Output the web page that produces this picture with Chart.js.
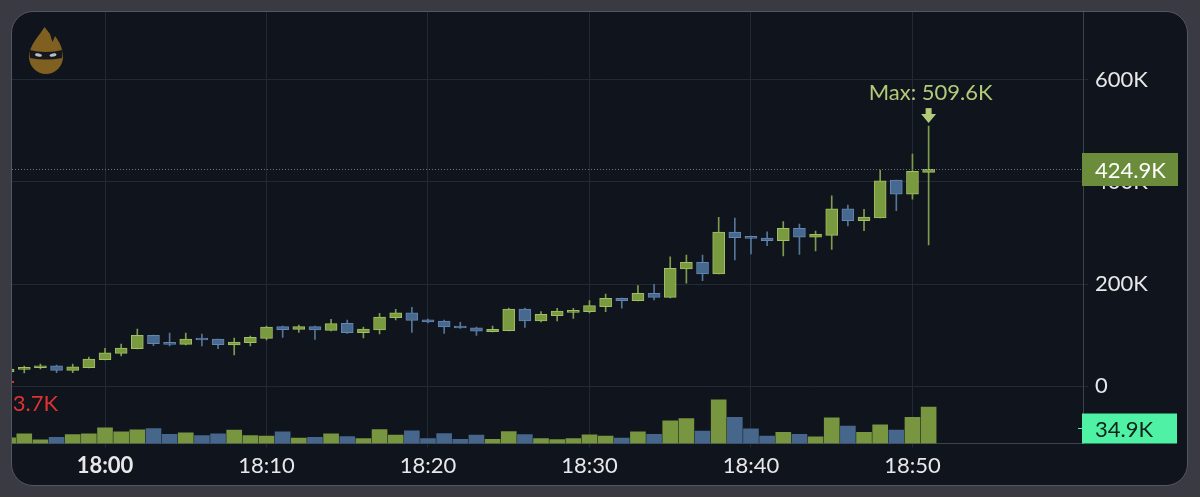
<!DOCTYPE html>
<html><head><meta charset="utf-8">
<script src="https://cdn.jsdelivr.net/npm/chart.js@4.4.0/dist/chart.umd.min.js"></script>
<style>
html,body{margin:0;padding:0;background:#3a3a43;width:1200px;height:497px;overflow:hidden}
#panel{position:absolute;left:11px;top:11px;width:1175px;height:473px;background:#0f141d;border:1px solid #55555f;border-radius:22px;overflow:hidden}
canvas{position:absolute;left:0;top:0}
</style></head><body>
<div id="panel"><canvas id="c" width="1175" height="473"></canvas></div>
<script>
// ---- data (prices and volumes in thousands) ----
const times = ['17:54','17:55','17:56','17:57','17:58','17:59','18:00','18:01','18:02','18:03','18:04','18:05','18:06','18:07','18:08','18:09','18:10','18:11','18:12','18:13','18:14','18:15','18:16','18:17','18:18','18:19','18:20','18:21','18:22','18:23','18:24','18:25','18:26','18:27','18:28','18:29','18:30','18:31','18:32','18:33','18:34','18:35','18:36','18:37','18:38','18:39','18:40','18:41','18:42','18:43','18:44','18:45','18:46','18:47','18:48','18:49','18:50','18:51'];
const openK  = [27.5,32.7,35.9,39.8,30.8,35.9,51.6,64.1,73.1,99.4,84.3,81.8,92.2,92.2,80.4,84.9,93.5,116.3,111.2,116.3,109.2,122.9,104.5,109.8,133.9,143.7,130.0,127.5,117.1,114.3,106.5,108.4,151.0,127.5,137.8,144.5,145.7,155.5,172.0,167.3,181.8,173.9,229.4,242.5,219.6,302.0,292.7,290.2,284.9,309.2,291.6,295.5,347.6,324.1,329.4,403.9,375.9,419.0];
const highK  = [39.2,39.2,43.1,41.2,43.1,56.9,73.9,82.4,111.8,100.0,103.9,103.9,102.0,92.2,94.1,98.0,117.6,117.6,119.6,117.6,130.8,129.4,115.7,142.5,150.4,154.3,131.4,129.4,124.9,115.7,117.6,152.9,152.9,145.7,152.4,152.4,167.3,180.4,172.5,196.7,199.4,253.5,256.9,256.9,330.8,329.4,294.1,302.5,322.2,317.6,303.9,373.1,354.9,346.5,423.5,403.9,454.9,509.6];
const lowK   = [23.7,25.5,33.3,26.1,26.1,35.3,51.0,58.8,72.5,79.0,78.4,80.4,78.4,73.1,60.8,78.4,90.2,95.5,105.3,91.6,107.8,103.3,94.1,102.0,129.4,105.3,123.5,103.3,113.1,99.4,105.9,107.8,115.1,125.5,127.5,132.7,143.1,145.7,152.4,166.7,168.6,172.5,201.4,206.5,219.6,247.1,258.8,275.1,254.9,258.2,264.7,268.0,313.7,304.5,329.4,343.7,366.1,276.5];
const closeK = [33.3,36.7,39.8,30.8,37.8,52.9,65.3,74.5,99.4,82.9,81.8,92.2,90.2,81.0,86.3,95.5,115.7,110.4,116.3,109.8,122.2,104.5,111.8,135.3,143.7,128.8,125.5,115.7,113.7,107.3,111.2,151.0,127.5,140.6,147.1,148.4,157.5,172.0,167.3,181.8,173.9,230.8,242.5,219.6,302.0,290.8,289.6,284.9,309.2,291.6,297.5,347.6,324.1,331.4,402.5,375.9,421.0,424.9];
const volumeK = [5.5,9.3,3.6,5.8,8.6,9.3,15.1,11.2,13.2,14.4,8.9,10.3,7.7,9.3,12.8,7.7,7.0,11.2,5.1,6.0,9.3,6.7,4.8,13.4,8.0,12.2,4.8,9.6,4.1,8.0,4.1,11.5,8.6,4.8,3.8,4.8,8.4,7.0,5.3,11.2,8.9,21.8,24.0,11.8,42.0,25.2,14.1,7.0,10.8,8.9,6.4,24.7,16.6,10.6,18.0,12.8,25.0,34.9];
const timeTicks = ['18:00','18:10','18:20','18:30','18:40','18:50'];
const priceTicks = [0,200,400,600];
const lastPrice = 424.9, lastVolume = 34.9, maxPrice = 509.6, minPrice = 23.7;

// ---- helpers ----
const toMin = t => { const [h,m] = t.split(':').map(Number); return (h-18)*60 + m; };
const xs = times.map(toMin);
const up = closeK.map((c,i) => c >= openK[i]);
const C = {
  gFill:'#7a9a3f', gBorder:'#a3bf66', gWick:'#7f9c4c', gVol:'#77963f',
  bFill:'#47698f', bBorder:'#6287b0', bWick:'#557599', bVol:'#46668c',
  grid:'#222a36', axis:'#3b4352', text:'#e8e8ea'
};
const FONT = 'Lato, "Open Sans", sans-serif';
const FS = 22;

const bodies = xs.map((x,i) => ({x, y:[openK[i], closeK[i]]}));
const wicks  = xs.map((x,i) => ({x, y:[lowK[i], highK[i]]}));
const vols   = xs.map((x,i) => ({x, y:volumeK[i]}));

const overlay = {
  id:'overlay',
  afterDraw(chart){
    const {ctx, chartArea:a, scales} = chart;
    const yS = scales.y, xS = scales.x;
    ctx.save();
    // dotted last price line
    const py = Math.round(yS.getPixelForValue(lastPrice)) + 0.5;
    ctx.strokeStyle = '#6d727c'; ctx.lineWidth = 1; ctx.setLineDash([1,2]);
    ctx.beginPath(); ctx.moveTo(a.left, py); ctx.lineTo(a.right, py); ctx.stroke();
    ctx.setLineDash([]);
    // last price box
    ctx.fillStyle = '#6b8d3b';
    ctx.fillRect(a.right - 1, py - 16.5, 96, 33);
    ctx.fillStyle = '#ffffff'; ctx.font = FS + 'px ' + FONT;
    ctx.textBaseline = 'middle'; ctx.textAlign = 'left';
    ctx.fillText(lastPrice.toFixed(1) + 'K', a.right + 12, py + 1);
    // volume box
    const vy = a.bottom - 15;
    ctx.fillStyle = '#4ff2a4';
    ctx.fillRect(a.right - 1, vy - 15, 95, 30);
    ctx.strokeStyle = '#4ff2a4'; ctx.beginPath(); ctx.moveTo(a.right - 5, vy); ctx.lineTo(a.right, vy); ctx.stroke();
    ctx.fillStyle = '#102219';
    ctx.fillText(lastVolume.toFixed(1) + 'K', a.right + 12, vy + 1);
    // max marker
    const last = xs.length - 1;
    const mx = xS.getPixelForValue(xs[last]);
    const my = yS.getPixelForValue(maxPrice);
    ctx.fillStyle = '#b3ca78';
    ctx.textAlign = 'center';
    ctx.font = FS + 'px ' + FONT;
    ctx.fillText('Max: ' + maxPrice.toFixed(1) + 'K', mx + 2, my - 33);
    ctx.fillRect(mx - 3, my - 18, 6, 7);
    ctx.beginPath(); ctx.moveTo(mx - 7.5, my - 12); ctx.lineTo(mx + 7.5, my - 12); ctx.lineTo(mx, my - 3); ctx.closePath(); ctx.fill();
    // min marker (partly outside the panel)
    const ny = yS.getPixelForValue(minPrice);
    ctx.fillStyle = '#e0332f';
    ctx.textAlign = 'right';
    ctx.fillText('Min: ' + minPrice.toFixed(1) + 'K', a.left + 46, ny + 30);
    ctx.fillRect(a.left, ny + 7, 2, 2);
    // logo
    ctx.save();
    ctx.translate(a.left + 34, 45);
    ctx.fillStyle = '#7f6020';
    ctx.beginPath();
    ctx.moveTo(-1.5, -30);
    ctx.bezierCurveTo(-6, -22, -17, -12, -17, 0);
    ctx.arc(0, 0, 17, Math.PI, 0, true);
    ctx.bezierCurveTo(17, -9, 13, -16, 9, -21);
    ctx.lineTo(6.5, -15);
    ctx.lineTo(4, -23);
    ctx.closePath();
    ctx.fill();
    ctx.fillStyle = '#17181c';
    ctx.beginPath();
    ctx.moveTo(-16.5, -7); ctx.quadraticCurveTo(0, -3, 16.5, -7);
    ctx.lineTo(16, 1); ctx.quadraticCurveTo(0, 4, -16, 1); ctx.closePath(); ctx.fill();
    ctx.fillStyle = '#b7bfcc';
    ctx.beginPath(); ctx.ellipse(-7.5, -2, 3.5, 1.6, 0.25, 0, Math.PI*2); ctx.fill();
    ctx.beginPath(); ctx.ellipse(7, -2, 3.5, 1.6, -0.25, 0, Math.PI*2); ctx.fill();
    ctx.restore();
    ctx.restore();
  }
};

const PRICE_MIN = -112.7, PRICE_MAX = 733.3;
const VOL_MAX = 414;

new Chart(document.getElementById('c'), {
  type:'bar',
  data:{
    datasets:[
      { label:'body', data:bodies, yAxisID:'y', grouped:false, barThickness:12, minBarLength:2,
        backgroundColor: up.map(u => u ? C.gFill : C.bFill),
        borderColor: up.map(u => u ? C.gBorder : C.bBorder),
        borderWidth:1, borderSkipped:false },
      { label:'wick', data:wicks, yAxisID:'y', grouped:false, barThickness:1,
        backgroundColor: up.map(u => u ? C.gWick : C.bWick), borderWidth:0 },
      { label:'volume', data:vols, yAxisID:'yv', grouped:false, barThickness:15,
        backgroundColor: up.map(u => u ? C.gVol : C.bVol), borderWidth:0 }
    ]
  },
  options:{
    responsive:false, animation:false, devicePixelRatio:1,
    layout:{padding:0},
    plugins:{legend:{display:false}, tooltip:{enabled:false}},
    scales:{
      x:{ type:'linear', min:-5.76, max:60.56, offset:false,
        afterFit(s){ s.height = 41.5; s.paddingLeft = 0; s.paddingRight = 0; },
        afterBuildTicks(s){ s.ticks = timeTicks.map(t => ({value:toMin(t)})); },
        ticks:{ color:C.text, padding:5, maxRotation:0, autoSkip:false,
          callback:(v) => timeTicks.find(t => toMin(t) === v),
          font:(c) => ({family:FONT, size:FS, weight: (c.tick && c.tick.value === 0) ? 'bold' : 'normal'}) },
        grid:{ color:C.grid, tickLength:4, drawOnChartArea:true, offset:false },
        border:{ display:true, color:C.axis }
      },
      y:{ type:'linear', position:'right', min:PRICE_MIN, max:PRICE_MAX,
        afterFit(s){ s.width = 104; s.paddingTop = 0; s.paddingBottom = 0; },
        afterBuildTicks(s){ s.ticks = priceTicks.map(v => ({value:v})); },
        ticks:{ color:C.text, padding:7, font:{family:FONT, size:FS},
          callback:(v) => v === 0 ? '0' : v + 'K' },
        grid:{ color:C.grid, tickLength:5 },
        border:{ display:true, color:C.axis }
      },
      yv:{ type:'linear', display:false, min:0, max:VOL_MAX }
    }
  },
  plugins:[overlay]
});
</script>
</body></html>
